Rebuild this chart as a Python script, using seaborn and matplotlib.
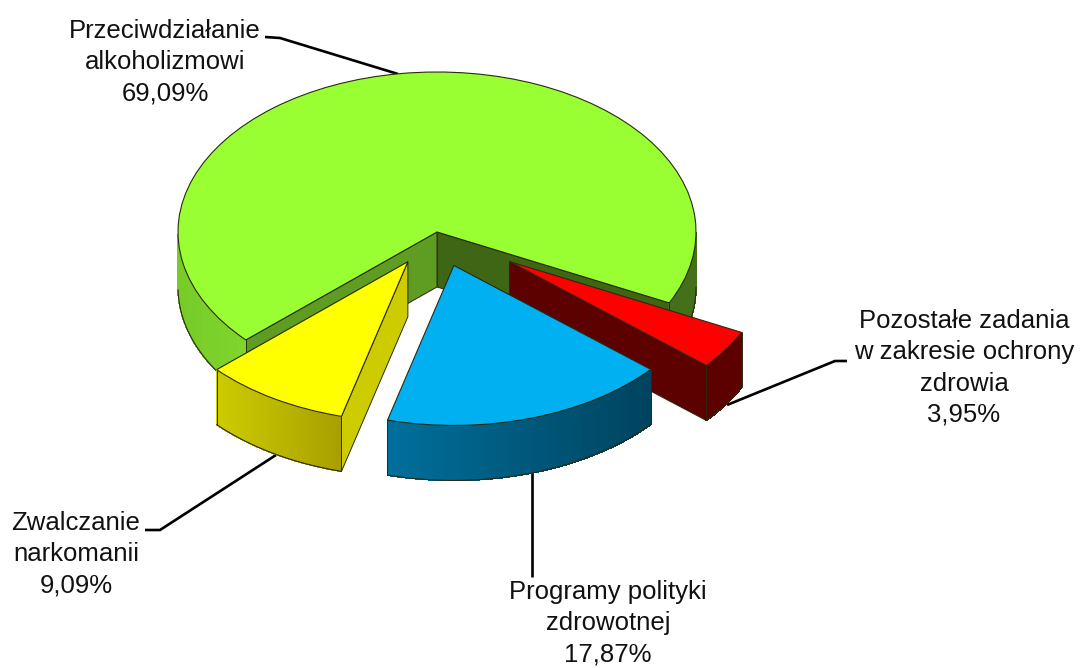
import matplotlib
matplotlib.use('Agg')
import matplotlib.pyplot as plt
import numpy as np
import seaborn as sns

# values
names = ['Przeciwdziałanie\nalkoholizmowi', 'Zwalczanie\nnarkomanii',
         'Programy polityki\nzdrowotnej',
         'Pozostałe zadania\nw zakresie ochrony\nzdrowia']
shares = [69.09, 9.09, 17.87, 3.95]
explode = [0, 0.217, 0.219, 0.335]
top_colors = ['#99FF33', '#FFFF00', '#00B0F0', '#FF0000']
cut_colors = [('#3F6615', '#5F9C22'), ('#CCCC00', '#CCCC00'),
              ('#005070', '#005070'), ('#5C0000', '#5C0000')]
wall_stops = [['#78CC28', '#8AE632', '#44701A', '#44701A'],
              ['#CCCC00', '#A89F00'],
              ['#006F9B', '#00435F'],
              ['#5C0000', '#5C0000']]
draw_order = [0, 3, 1, 2]  # blue sits in front of the red slice

# label centres and leader lines, in image pixels
label_pos = [(165, 62), (76, 554), (608, 623), (964, 368)]
leaders = [[(265, 37), (280, 38), (398, 74)],
           [(145, 530), (160, 530), (276, 455)],
           [(532, 472), (532, 577)],
           [(847, 361), (835, 361), (727, 405)]]

# pie centre and radii in pixels: a unit pie in data space is the tilted ellipse
CX, CY, RX, RY = 437, 232, 259, 160
DEPTH = 55 / RY
EDGE = '#2A2A10'


def to_data(px, py):
    return (px - CX) / RX, (CY - py) / RY


def draw_cut(ax, wedge, theta, color, z):
    cx, cy = wedge.center
    ex = cx + wedge.r * np.cos(np.radians(theta))
    ey = cy + wedge.r * np.sin(np.radians(theta))
    ax.fill([cx, ex, ex, cx], [cy, ey, ey - DEPTH, cy - DEPTH],
            facecolor=color, edgecolor=EDGE, linewidth=0.7, zorder=z)


def draw_walls(ax, wedge, cuts, stops, z):
    cx, cy = wedge.center
    r = wedge.r
    # a cut face shows only when it turns towards the viewer
    if np.cos(np.radians(wedge.theta1)) > 0:
        draw_cut(ax, wedge, wedge.theta1, cuts[0], z)
    if np.cos(np.radians(wedge.theta2)) < 0:
        draw_cut(ax, wedge, wedge.theta2, cuts[1], z)

    angles = np.radians(np.linspace(wedge.theta1, wedge.theta2, 181))
    front = np.sin(angles) <= 0.001
    xs = cx + r * np.cos(angles)
    ys = cy + r * np.sin(angles)
    cos_lo = np.cos(angles[front]).min()
    cos_hi = np.cos(angles[front]).max()
    palette = sns.blend_palette(stops, 64)
    for i in range(len(angles) - 1):
        if not (front[i] and front[i + 1]):
            continue
        t = (np.cos(angles[i]) - cos_lo) / max(cos_hi - cos_lo, 1e-6)
        c = palette[int(t * 63)]
        ax.fill([xs[i], xs[i + 1], xs[i + 1], xs[i]],
                [ys[i], ys[i + 1], ys[i + 1] - DEPTH, ys[i] - DEPTH],
                facecolor=c, edgecolor=c, linewidth=0.5, antialiased=False,
                zorder=z)
    # lower outline of the rim, with a break where it goes behind the top
    low_x = np.where(front, xs, np.nan)
    low_y = np.where(front, ys - DEPTH, np.nan)
    ax.plot(low_x, low_y, color=EDGE, lw=0.8, zorder=z)
    for k in (0, -1):
        if front[k]:
            ax.plot([xs[k], xs[k]], [ys[k], ys[k] - DEPTH], color=EDGE,
                    lw=0.7, zorder=z)


sns.set_theme(style='white')
plt.rcParams['font.family'] = ['Liberation Sans', 'DejaVu Sans']

fig = plt.figure(figsize=(10.8, 6.68), dpi=100, facecolor='white')
ax = fig.add_axes([0, 0, 1, 1])

wedges, _ = ax.pie(shares, explode=explode, colors=top_colors,
                   startangle=-26.3, radius=1,
                   wedgeprops={'edgecolor': EDGE, 'linewidth': 0.8})
ax.set_aspect('auto')
ax.set_xlim(to_data(0, 0)[0], to_data(1080, 0)[0])
ax.set_ylim(to_data(0, 668)[1], to_data(0, 0)[1])
ax.axis('off')

for rank, i in enumerate(draw_order):
    z = 3 + rank * 2
    draw_walls(ax, wedges[i], cut_colors[i], wall_stops[i], z)
    wedges[i].set_zorder(z + 1)

for path in leaders:
    xy = np.array([to_data(*p) for p in path])
    ax.plot(xy[:, 0], xy[:, 1], color='black', lw=1.9, zorder=2,
            solid_joinstyle='miter', solid_capstyle='butt')

for name, share, pos in zip(names, shares, label_pos):
    text = name + '\n' + f'{share:.2f}%'.replace('.', ',')
    x, y = to_data(*pos)
    ax.text(x, y, text, ha='center', va='center', fontsize=18.5,
            color='#111111', linespacing=1.38, zorder=20)

plt.savefig('out.png', dpi=100)
